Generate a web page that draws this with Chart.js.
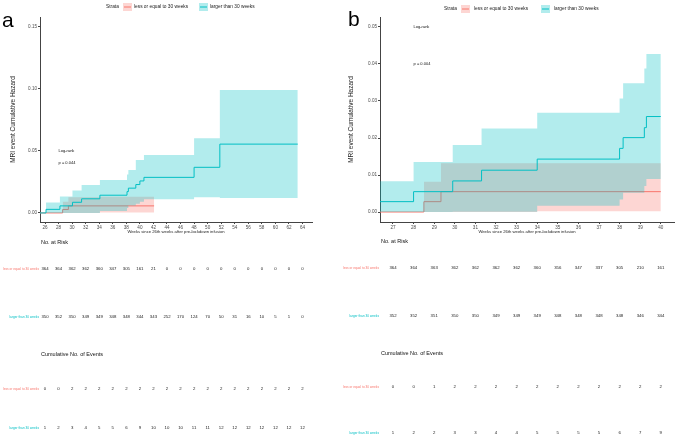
<!DOCTYPE html>
<html>
<head>
<meta charset="utf-8">
<script src="https://cdn.jsdelivr.net/npm/chart.js@4.4.1/dist/chart.umd.min.js"></script>
<style>
  body { margin: 0; background: #fff; }
  #wrap { position: relative; width: 676px; height: 442px; }
  canvas { position: absolute; top: 0; }
</style>
</head>
<body>
<div id="wrap">
  <canvas id="panel-a" width="338" height="442" style="left:0"></canvas>
  <canvas id="panel-b" width="338" height="442" style="left:338px"></canvas>
</div>
<script>
const strata = ['less or equal to 30 weeks', 'larger than 30 weeks'];
const lineColors = ['#F8766D', '#00BFC4'];
const bandColors = ['rgba(248,118,109,0.3)', 'rgba(0,191,196,0.3)'];
const FONT = '"Liberation Sans", Arial, sans-serif';

// ---- panel a: weeks 26..64
const aTicks = [26, 28, 30, 32, 34, 36, 38, 40, 42, 44, 46, 48, 50, 52, 54, 56, 58, 60, 62, 64];
const aYTicks = [0, 0.05, 0.10, 0.15];
const aLowTime = [25.26, 28.6, 29.45, 42.1];
const aLowHaz = [0, 0.0028, 0.0057, 0.0057];
const aLowBandTime = [28.6, 29.45, 34.1, 42.1];
const aLowUpper = [0.0091, 0.0127, 0.0131, 0.0131];
const aLowLower = [0, 0, 0.0003, 0.0003];
const aHighTime = [25.26, 26.15, 28.2, 30.05, 31.4, 34.1, 38.1, 38.3, 39.4, 40.0, 40.6, 48.0, 51.8, 63.3];
const aHighHaz = [0, 0.0029, 0.0057, 0.0086, 0.0114, 0.0143, 0.0172, 0.0200, 0.0229, 0.0258, 0.0287, 0.0368, 0.0555, 0.0555];
const aHighBandTime = [26.15, 28.2, 30.05, 31.4, 34.1, 38.1, 38.3, 39.4, 40.0, 40.6, 48.0, 51.8, 63.3];
const aHighUpper = [0.0085, 0.0132, 0.018, 0.0226, 0.0266, 0.031, 0.0347, 0.0427, 0.0427, 0.0468, 0.0602, 0.0992, 0.0992];
const aHighLower = [0, 0, 0, 0, 0.0015, 0.004, 0.006, 0.0075, 0.009, 0.011, 0.0127, 0.0121, 0.0121];
const aRiskLow = [364, 364, 362, 362, 360, 347, 305, 161, 21, 0, 0, 0, 0, 0, 0, 0, 0, 0, 0, 0];
const aRiskHigh = [350, 352, 350, 349, 349, 348, 348, 344, 343, 252, 170, 124, 70, 50, 31, 16, 10, 5, 1, 0];
const aEventsLow = [0, 0, 2, 2, 2, 2, 2, 2, 2, 2, 2, 2, 2, 2, 2, 2, 2, 2, 2, 2];
const aEventsHigh = [1, 2, 3, 4, 5, 5, 6, 9, 10, 10, 10, 11, 11, 12, 12, 12, 12, 12, 12, 12];
const aPval = 'p = 0.044';

// ---- panel b: weeks 27..40
const bTicks = [27, 28, 29, 30, 31, 32, 33, 34, 35, 36, 37, 38, 39, 40];
const bYTicks = [0, 0.01, 0.02, 0.03, 0.04, 0.05];
const bLowTime = [26.37, 28.5, 29.33, 40.0];
const bLowHaz = [0, 0.0028, 0.0055, 0.0055];
const bLowBandTime = [28.5, 29.33, 34.0, 40.0];
const bLowUpper = [0.0082, 0.0132, 0.0132, 0.0132];
const bLowLower = [0, 0, 0.0002, 0.0002];
const bHighTime = [26.37, 28.0, 29.9, 31.3, 34.0, 38.0, 38.17, 39.2, 39.3, 40.0];
const bHighHaz = [0.0028, 0.0055, 0.0084, 0.0113, 0.0143, 0.0172, 0.0201, 0.0228, 0.0258, 0.0258];
const bHighUpper = [0.0083, 0.0135, 0.0181, 0.0226, 0.0268, 0.0307, 0.0348, 0.0388, 0.0427, 0.0427];
const bHighLower = [0, 0, 0.0001, 0.0001, 0.0017, 0.0034, 0.0052, 0.007, 0.0089, 0.0089];
const bRiskLow = [364, 364, 363, 362, 362, 362, 362, 360, 356, 347, 337, 305, 210, 161];
const bRiskHigh = [352, 352, 351, 350, 350, 349, 349, 349, 348, 348, 348, 348, 346, 344];
const bEventsLow = [0, 0, 1, 2, 2, 2, 2, 2, 2, 2, 2, 2, 2, 2];
const bEventsHigh = [1, 2, 2, 3, 3, 4, 4, 5, 5, 5, 5, 6, 7, 9];
const bPval = 'p = 0.004';

// where ggsurvplot put the log-rank text (data coords): x, y of "Log-rank", y of p
const pvalCoord = [28, 0.05, 0.04];

const pts = (xs, ys) => xs.map((x, i) => ({ x: x, y: ys[i] }));

// legend, panel letter, p-value, risk tables
const kmExtras = {
  id: 'kmExtras',
  afterDraw(chart, args, o) {
    const ctx = chart.ctx, xs = chart.scales.x, ys = chart.scales.y;
    ctx.save();
    ctx.textAlign = 'left';
    ctx.textBaseline = 'alphabetic';
    ctx.fillStyle = '#000';
    ctx.font = '21px ' + FONT;
    ctx.fillText(o.letter, o.letterX, o.letterY);

    // legend
    ctx.textBaseline = 'middle';
    ctx.font = '4.8px ' + FONT;
    ctx.fillStyle = '#222';
    ctx.fillText('Strata', o.legend.strataX, o.legend.y);
    o.legend.items.forEach((it, i) => {
      ctx.fillStyle = bandColors[i];
      ctx.fillRect(it.boxX, o.legend.y - 4, 9, 8);
      ctx.strokeStyle = lineColors[i];
      ctx.lineWidth = 1;
      ctx.beginPath();
      ctx.moveTo(it.boxX + 1, o.legend.y);
      ctx.lineTo(it.boxX + 8, o.legend.y);
      ctx.stroke();
      ctx.fillStyle = '#222';
      ctx.fillText(strata[i], it.textX, o.legend.y);
    });

    // log-rank p value
    ctx.font = '4px ' + FONT;
    ctx.fillStyle = '#111';
    const px = xs.getPixelForValue(pvalCoord[0]);
    ctx.fillText('Log-rank', px, ys.getPixelForValue(pvalCoord[1]));
    ctx.fillText(o.pval, px, ys.getPixelForValue(pvalCoord[2]));

    // tables
    ctx.font = '5.5px ' + FONT;
    ctx.fillStyle = '#111';
    o.headers.forEach(h => ctx.fillText(h.text, chart.chartArea.left + 1, h.y));
    o.rows.forEach(r => {
      ctx.textAlign = 'right';
      ctx.font = '3.2px ' + FONT;
      ctx.fillStyle = lineColors[r.group];
      ctx.fillText(strata[r.group], chart.chartArea.left - 1, r.y);
      ctx.textAlign = 'center';
      ctx.font = '4.3px ' + FONT;
      ctx.fillStyle = '#222';
      r.values.forEach((v, i) => ctx.fillText(String(v), xs.getPixelForValue(o.ticks[i]), r.y));
    });
    ctx.restore();
  }
};

function makePanel(id, p) {
  const band = { borderWidth: 0, borderColor: 'transparent', stepped: true, pointRadius: 0 };
  const datasets = [
    { label: strata[1], data: pts(p.highTime, p.highHaz), borderColor: lineColors[1], borderWidth: 1, stepped: true, pointRadius: 0, fill: false },
    Object.assign({ data: pts(p.highBandTime, p.highUpper), backgroundColor: bandColors[1], fill: '+1' }, band),
    Object.assign({ data: pts(p.highBandTime, p.highLower), fill: false }, band),
    { label: strata[0], data: pts(p.lowTime, p.lowHaz), borderColor: lineColors[0], borderWidth: 1, stepped: true, pointRadius: 0, fill: false },
    Object.assign({ data: pts(p.lowBandTime, p.lowUpper), backgroundColor: bandColors[0], fill: '+1' }, band),
    Object.assign({ data: pts(p.lowBandTime, p.lowLower), fill: false }, band)
  ];
  return new Chart(document.getElementById(id), {
    type: 'line',
    data: { datasets: datasets },
    plugins: [kmExtras],
    options: {
      responsive: false,
      animation: false,
      layout: { padding: { left: 0, top: 17, right: p.padRight, bottom: 442 - 222 - 14 } },
      plugins: {
        legend: { display: false },
        tooltip: { enabled: false },
        kmExtras: p.extras
      },
      scales: {
        x: {
          type: 'linear',
          min: p.xMin, max: p.xMax,
          afterBuildTicks: s => { s.ticks = p.ticks.map(v => ({ value: v })); },
          afterFit: s => { s.height = 14; },
          ticks: { font: { size: 4.6, family: FONT }, color: '#4d4d4d', padding: 1.2, maxRotation: 0, autoSkip: false },
          grid: { drawOnChartArea: false, tickLength: 2, tickColor: '#444' },
          border: { color: '#444', width: 1 },
          title: { display: true, text: 'Weeks since 26th weeks after pre-lockdown infusion', font: { size: 4.2, family: FONT }, color: '#222', padding: { top: 0, bottom: 1.3 } }
        },
        y: {
          min: p.yMin, max: p.yMax,
          afterBuildTicks: s => { s.ticks = p.yTicks.map(v => ({ value: v })); },
          afterFit: s => { s.width = p.yWidth; },
          ticks: { font: { size: 4.6, family: FONT }, color: '#4d4d4d', padding: 1, callback: v => v.toFixed(2) },
          grid: { drawOnChartArea: false, tickLength: 2, tickColor: '#444' },
          border: { color: '#444', width: 1 },
          title: { display: true, text: 'MRI event Cumulative Hazard', font: { size: 6.5, family: FONT }, color: '#222', padding: { top: 9, bottom: 0 } }
        }
      }
    }
  });
}

makePanel('panel-a', {
  ticks: aTicks, yTicks: aYTicks, xMin: 25.26, xMax: 65.4, yMin: -0.0073, yMax: 0.158,
  yWidth: 40, padRight: 26,
  lowTime: aLowTime, lowHaz: aLowHaz, lowBandTime: aLowBandTime, lowUpper: aLowUpper, lowLower: aLowLower,
  highTime: aHighTime, highHaz: aHighHaz, highBandTime: aHighBandTime, highUpper: aHighUpper, highLower: aHighLower,
  extras: {
    letter: 'a', letterX: 2, letterY: 27, pval: aPval, ticks: aTicks,
    legend: { y: 7, strataX: 106, items: [{ boxX: 123, textX: 134 }, { boxX: 199, textX: 210 }] },
    headers: [{ text: 'No. at Risk', y: 242 }, { text: 'Cumulative No. of Events', y: 354 }],
    rows: [
      { group: 0, y: 269, values: aRiskLow },
      { group: 1, y: 317, values: aRiskHigh },
      { group: 0, y: 389, values: aEventsLow },
      { group: 1, y: 428, values: aEventsHigh }
    ]
  }
});

makePanel('panel-b', {
  ticks: bTicks, yTicks: bYTicks, xMin: 26.37, xMax: 40.64, yMin: -0.0027, yMax: 0.0527,
  yWidth: 42, padRight: 2,
  lowTime: bLowTime, lowHaz: bLowHaz, lowBandTime: bLowBandTime, lowUpper: bLowUpper, lowLower: bLowLower,
  highTime: bHighTime, highHaz: bHighHaz, highBandTime: bHighTime, highUpper: bHighUpper, highLower: bHighLower,
  extras: {
    letter: 'b', letterX: 10, letterY: 26, pval: bPval, ticks: bTicks,
    legend: { y: 9, strataX: 106, items: [{ boxX: 123, textX: 136 }, { boxX: 203, textX: 216 }] },
    headers: [{ text: 'No. at Risk', y: 241 }, { text: 'Cumulative No. of Events', y: 353 }],
    rows: [
      { group: 0, y: 268, values: bRiskLow },
      { group: 1, y: 316, values: bRiskHigh },
      { group: 0, y: 387, values: bEventsLow },
      { group: 1, y: 433, values: bEventsHigh }
    ]
  }
});
</script>
</body>
</html>
